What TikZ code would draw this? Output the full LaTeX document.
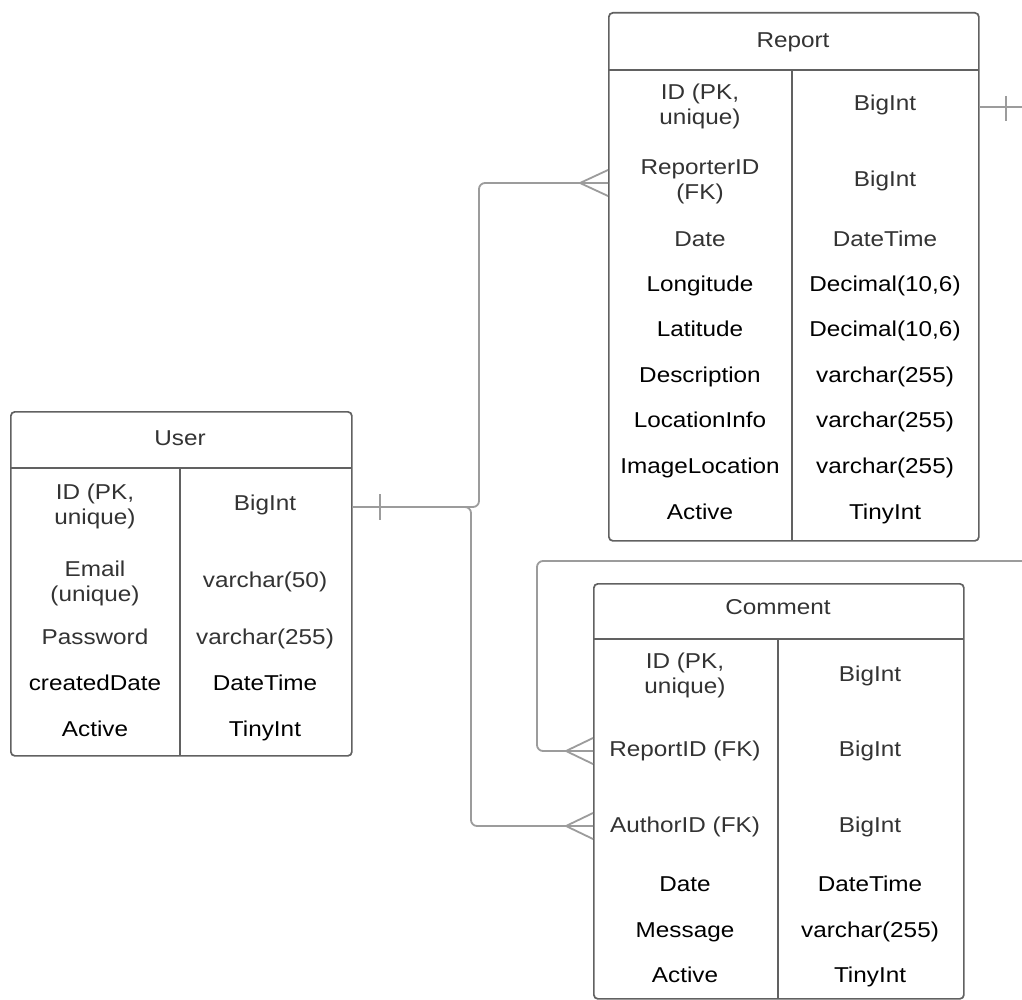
\documentclass[tikz,border=0pt]{standalone}
\usepackage{fontspec}
\setmainfont{Liberation Sans}[FakeStretch=1.13]
\definecolor{boxc}{HTML}{616161}
\definecolor{linec}{HTML}{9C9C9C}
\definecolor{greyt}{HTML}{333333}
\newcommand{\fsz}{\fontsize{21.5}{25}\selectfont}
\tikzset{
  ent/.style={draw=boxc, line width=1.7pt, rounded corners=4pt, anchor=north west, inner sep=0pt},
  sep/.style={draw=boxc, line width=1.7pt},
  conn/.style={draw=linec, line width=1.8pt, rounded corners=6pt},
  tick/.style={draw=linec, line width=1.8pt},
  gt/.style={text=greyt, align=center, font=\fsz, inner sep=0pt},
  bt/.style={text=black, align=center, font=\fsz, inner sep=0pt},
  sl/.style={text height=17pt, text depth=1.6pt},
}
\begin{document}
\begin{tikzpicture}[x=1pt, y=-1pt]
\useasboundingbox (0,0) rectangle (1022,1000);
\clip (0,0) rectangle (1022,1000);
\fill[white] (0,0) rectangle (1022,1000);

% ---------- Report ----------
\node[ent, minimum width=370pt, minimum height=528pt] (report) at (608,12) {};
\draw[sep] (608,70) -- (978,70);
\draw[sep] (792,70) -- (792,540);
\node[gt,sl] (rt) at (793,40) {Report};
\node[gt] (r1a) at (700,106) {ID (PK,\\unique)};
\node[gt,sl] (r1b) at (885,103) {BigInt};
\node[gt] (r2a) at (700,182) {ReporterID\\(FK)};
\node[gt,sl] (r2b) at (885,179) {BigInt};
\node[gt,sl] (r3a) at (700,239) {Date};
\node[gt,sl] (r3b) at (885,239) {DateTime};
\node[bt,sl] (r4a) at (700,284) {Longitude};
\node[bt,sl] (r4b) at (885,284) {Decimal(10,6)};
\node[bt,sl] (r5a) at (700,329) {Latitude};
\node[bt,sl] (r5b) at (885,329) {Decimal(10,6)};
\node[bt,sl] (r6a) at (700,375) {Description};
\node[bt,sl] (r6b) at (885,375) {varchar(255)};
\node[bt,sl] (r7a) at (700,420) {LocationInfo};
\node[bt,sl] (r7b) at (885,420) {varchar(255)};
\node[bt,sl] (r8a) at (700,466) {ImageLocation};
\node[bt,sl] (r8b) at (885,466) {varchar(255)};
\node[bt,sl] (r9a) at (700,512) {Active};
\node[bt,sl] (r9b) at (885,512) {TinyInt};

% ---------- User ----------
\node[ent, minimum width=341pt, minimum height=344pt] (user) at (10,411) {};
\draw[sep] (10,468) -- (351,468);
\draw[sep] (180,468) -- (180,755);
\node[gt,sl] (ut) at (180,438) {User};
\node[gt] (u1a) at (95,506) {ID (PK,\\unique)};
\node[gt,sl] (u1b) at (265,503) {BigInt};
\node[gt] (u2a) at (95,583) {Email\\(unique)};
\node[gt,sl] (u2b) at (265,580) {varchar(50)};
\node[gt,sl] (u3a) at (95,637) {Password};
\node[gt,sl] (u3b) at (265,637) {varchar(255)};
\node[bt,sl] (u4a) at (95,683) {createdDate};
\node[bt,sl] (u4b) at (265,683) {DateTime};
\node[bt,sl] (u5a) at (95,729) {Active};
\node[bt,sl] (u5b) at (265,729) {TinyInt};

% ---------- Comment ----------
\node[ent, minimum width=370pt, minimum height=415pt] (comment) at (593,583) {};
\draw[sep] (593,639) -- (963,639);
\draw[sep] (778,639) -- (778,998);
\node[gt,sl] (ct) at (778,607) {Comment};
\node[gt] (c1a) at (685,675) {ID (PK,\\unique)};
\node[gt,sl] (c1b) at (870,674) {BigInt};
\node[gt,sl] (c2a) at (685,749) {ReportID (FK)};
\node[gt,sl] (c2b) at (870,749) {BigInt};
\node[gt,sl] (c3a) at (685,825) {AuthorID (FK)};
\node[gt,sl] (c3b) at (870,825) {BigInt};
\node[bt,sl] (c4a) at (685,884) {Date};
\node[bt,sl] (c4b) at (870,884) {DateTime};
\node[bt,sl] (c5a) at (685,930) {Message};
\node[bt,sl] (c5b) at (870,930) {varchar(255)};
\node[bt,sl] (c6a) at (685,975) {Active};
\node[bt,sl] (c6b) at (870,975) {TinyInt};

% ---------- Connectors ----------
% User -> Report (ReporterID)
\draw[conn] (user.east |- 0,507) -- (479,507) -- (479,183) -- (report.west |- 0,183);
\draw[tick] (380,494) -- (380,520);
\draw[tick] (580,183) -- (608,170);
\draw[tick] (580,183) -- (608,196);

% User -> Comment (AuthorID)
\draw[conn] (user.east |- 0,507) -- (471,507) -- (471,826) -- (comment.west |- 0,826);
\draw[tick] (566,826) -- (593,813);
\draw[tick] (566,826) -- (593,839);

% Report -> Comment (ReportID), running off the right edge
\draw[conn] (report.east |- 0,107) -- (1045,107) -- (1045,561) -- (537,561) -- (537,751) -- (comment.west |- 0,751);
\draw[tick] (1006,96) -- (1006,121);
\draw[tick] (566,751) -- (593,738);
\draw[tick] (566,751) -- (593,764);
\end{tikzpicture}
\end{document}
